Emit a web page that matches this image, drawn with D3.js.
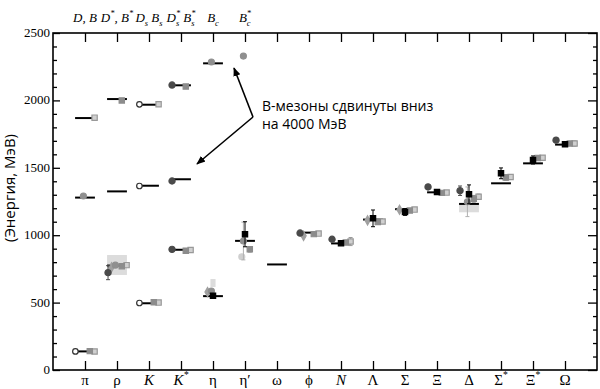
<!DOCTYPE html>
<html lang="ru">
<head>
<meta charset="utf-8">
<title>Hadron spectrum</title>
<script src="https://cdnjs.cloudflare.com/ajax/libs/d3/7.8.5/d3.min.js"></script>
<style>
  body { margin: 0; background: #fff; }
  svg text { fill: #000; }
  .tick-lbl { font-family: "Liberation Serif", "DejaVu Serif", serif; font-size: 13px; }
  .cat-lbl { font-family: "Liberation Serif", "DejaVu Serif", serif; font-size: 15px; }
  .note { font-family: "Open Sans", "DejaVu Sans", sans-serif; font-size: 14px; }
</style>
</head>
<body>
<div id="chart"></div>
<script>
// categories (bottom) and heavy-meson labels (top)
var categories = ["π", "ρ", "K", "K^*", "η", "η′", "ω", "ϕ", "N", "Λ", "Σ", "Ξ", "Δ", "Σ^*", "Ξ^*", "Ω"];
var italicCats = ["K", "K^*", "N"];
var topLabels = ["D, B", "D^*, B^*", "D_s B_s", "D_s^* B_s^*", "B_c", "B_c^*"];
var yTicks = [0, 500, 1000, 1500, 2000, 2500];

// experiment (black bars)
var expLight = [138, 775, 495, 892, 548, 958, 783, 1019, 939, 1116, 1193, 1318, 1232, 1385, 1533, 1672];
var expHeavyD = [1869, 2010, 1968, 2112, 2275];   // D, D*, Ds, Ds*, Bc
var expHeavyB = [1279, 1325, 1367, 1415];         // B, B*, Bs, Bs*  (minus 4000)

// light grey bands [category, low, high]
var bands = [[1, 705, 853], [4, 616, 675], [12, 1170, 1236]];

// lattice results: [category, value, error]
var darkCircles  = [[1, 722, 52], [3, 895, 12], [7, 1016, 8], [8, 970, 15], [11, 1358, 15], [12, 1330, 35], [15, 1705, 10], [3, 2114, 0], [3, 1402, 0]];
var openCircles  = [[0, 138, 0], [2, 497, 0], [2, 1971, 0], [2, 1365, 0]];
var blackSquares = [[4, 551, 0], [5, 1007, 93], [8, 940, 0], [9, 1125, 62], [10, 1172, 25], [11, 1320, 12], [12, 1303, 70], [13, 1459, 40], [14, 1558, 30], [15, 1674, 8]];
var grayCircles  = [[1, 778, 0], [5, 957, 140], [12, 1248, 110], [0, 1291, 0], [4, 2285, 0], [5, 2329, 0], [4, 586, 0]];
var graySquares  = [[0, 140, 0], [1, 770, 0], [2, 503, 0], [3, 885, 0], [5, 895, 20], [7, 1008, 0], [8, 946, 0], [9, 1098, 0], [10, 1183, 0], [11, 1314, 0], [12, 1270, 25], [13, 1428, 20], [14, 1572, 15], [15, 1680, 0], [1, 2000, 0], [3, 2103, 0]];
var lightSquares = [[0, 137, 0], [1, 778, 0], [2, 500, 0], [3, 890, 0], [7, 1012, 0], [8, 953, 30], [9, 1102, 0], [10, 1190, 0], [11, 1316, 0], [12, 1285, 20], [13, 1432, 0], [14, 1575, 0], [15, 1680, 20], [0, 1872, 0], [2, 1971, 0]];
var grayDiamonds = [[1, 762, 0], [4, 578, 0], [7, 995, 0], [9, 1110, 0], [10, 1188, 0]];
var lightCircles = [[5, 840, 0]];

var width = 600, height = 389;
var mLeft = 53, mRight = 597, mTop = 33, mBottom = 370;

var svg = d3.select("#chart").append("svg")
    .attr("width", width).attr("height", height);

var x = d3.scaleLinear().domain([0, 17]).range([mLeft, mRight]);
var y = d3.scaleLinear().domain([0, 2500]).range([mBottom, mTop]);
var catX = function(i) { return x(i + 1); };

// text with ^ superscript and _ subscript (a ^ right after _ is stacked over it)
function richText(sel, str, size) {
    var parts = str.match(/(\^.|_.|[^\^_]+)/g);
    var shift = 0, prev = null, prevSub = false;
    parts.forEach(function(p) {
        var target = 0, txt = p, fs = size, dx = 0;
        if (p[0] === "^") {
            target = -size * 0.45; txt = p[1]; fs = size * 0.65;
            if (prevSub) dx = -prev.node().getComputedTextLength();
        } else if (p[0] === "_") { target = size * 0.3; txt = p[1]; fs = size * 0.65; }
        prev = sel.append("tspan").attr("dy", target - shift).attr("dx", dx)
            .attr("font-size", fs).text(txt);
        prevSub = p[0] === "_";
        shift = target;
    });
}

// axes
var minor = d3.range(0, 2501, 100).filter(function(v) { return v % 500 !== 0; });
function noDomain(g) { g.select(".domain").remove(); }
svg.append("g").attr("transform", "translate(" + mLeft + ",0)")
    .call(d3.axisRight(y).tickValues(yTicks).tickSize(7).tickFormat("")).call(noDomain);
svg.append("g").attr("transform", "translate(" + mLeft + ",0)")
    .call(d3.axisRight(y).tickValues(minor).tickSize(4).tickFormat("")).call(noDomain);
svg.append("g").attr("transform", "translate(" + mRight + ",0)")
    .call(d3.axisLeft(y).tickValues(yTicks).tickSize(9).tickFormat("")).call(noDomain);
svg.append("g").attr("transform", "translate(" + mRight + ",0)")
    .call(d3.axisLeft(y).tickValues(minor).tickSize(4).tickFormat("")).call(noDomain);

var catPos = d3.range(1, 17);
svg.append("g").attr("transform", "translate(0," + mBottom + ")")
    .call(d3.axisTop(x).tickValues(catPos).tickSize(9).tickFormat("")).call(noDomain);
svg.append("g").attr("transform", "translate(0," + mTop + ")")
    .call(d3.axisBottom(x).tickValues(catPos).tickSize(9).tickFormat("")).call(noDomain);
svg.selectAll(".tick line").attr("stroke", "#000").attr("stroke-width", 1.3);

svg.append("rect").attr("x", mLeft).attr("y", mTop)
    .attr("width", mRight - mLeft).attr("height", mBottom - mTop)
    .attr("fill", "none").attr("stroke", "#000").attr("stroke-width", 1.6);

// y tick labels
svg.selectAll(".ylbl").data(yTicks).enter().append("text")
    .attr("class", "tick-lbl")
    .attr("x", mLeft - 3).attr("y", function(d) { return y(d) + 4; })
    .attr("text-anchor", "end").text(function(d) { return d; });

// bottom labels
categories.forEach(function(c, i) {
    var t = svg.append("text").attr("class", "cat-lbl")
        .attr("x", catX(i)).attr("y", 385).attr("text-anchor", "middle")
        .style("font-style", italicCats.indexOf(c) >= 0 ? "italic" : "normal");
    richText(t, c, 15);
});

// top labels
topLabels.forEach(function(c, i) {
    var t = svg.append("text").attr("class", "cat-lbl")
        .attr("x", catX(i)).attr("y", 22).attr("text-anchor", "middle")
        .style("font-style", "italic").style("font-size", "13px");
    richText(t, c, 13);
});

// y label
svg.append("text").attr("class", "note")
    .attr("transform", "translate(15,188) rotate(-90)")
    .attr("text-anchor", "middle").style("font-size", "15px")
    .text("(Энергия, МэВ)");

// bands
svg.selectAll(".band").data(bands).enter().append("rect")
    .attr("x", function(d) { return catX(d[0]) - (d[0] === 4 ? 0.08 : 0.31) * 32; })
    .attr("width", function(d) { return (d[0] === 4 ? 0.16 : 0.62) * 32; })
    .attr("y", function(d) { return y(d[2]); })
    .attr("height", function(d) { return y(d[1]) - y(d[2]); })
    .attr("fill", "#dcdcdc");

// experiment bars
var halfBar = 0.31;
function expBars(vals) {
    svg.append("g").selectAll("line").data(vals).enter().append("line")
        .attr("x1", function(d, i) { return x(i + 1 - halfBar); })
        .attr("x2", function(d, i) { return x(i + 1 + halfBar); })
        .attr("y1", function(d) { return y(d); })
        .attr("y2", function(d) { return y(d); })
        .attr("stroke", "#000").attr("stroke-width", 2);
}
expBars(expLight);
expBars(expHeavyD);
expBars(expHeavyB);

// lattice markers
function series(data, opt) {
    var g = svg.append("g");
    var px = function(d) { return x(d[0] + 1 + opt.dx); };
    g.selectAll("path.err").data(data.filter(function(d) { return d[2] > 0; })).enter().append("path")
        .attr("d", function(d) {
            var cx = px(d), y1 = y(d[1] + d[2]), y2 = y(d[1] - d[2]);
            return "M" + cx + "," + y1 + "V" + y2 +
                "M" + (cx - 2) + "," + y1 + "H" + (cx + 2) +
                "M" + (cx - 2) + "," + y2 + "H" + (cx + 2);
        })
        .attr("stroke", opt.errColor || opt.stroke).attr("stroke-width", 1).attr("fill", "none");
    g.selectAll("path.sym").data(data).enter().append("path")
        .attr("d", d3.symbol().type(opt.type).size(opt.size))
        .attr("transform", function(d) { return "translate(" + px(d) + "," + y(d[1]) + ")"; })
        .attr("fill", opt.fill).attr("stroke", opt.stroke).attr("stroke-width", 1.2);
}

series(lightSquares, { dx: 0.3, type: d3.symbolSquare, size: 28, fill: "#d0d0d0", stroke: "#999" });
series(graySquares, { dx: 0.15, type: d3.symbolSquare, size: 28, fill: "#8c8c8c", stroke: "#8c8c8c" });
series(grayDiamonds, { dx: -0.17, type: d3.symbolDiamond, size: 24, fill: "#a0a0a0", stroke: "#a0a0a0" });
series(lightCircles, { dx: -0.1, type: d3.symbolCircle, size: 28, fill: "#cfcfcf", stroke: "#cfcfcf" });
series(grayCircles, { dx: -0.05, type: d3.symbolCircle, size: 28, fill: "#8f8f8f", stroke: "#8f8f8f", errColor: "#b0b0b0" });
series(openCircles, { dx: -0.3, type: d3.symbolCircle, size: 24, fill: "#fff", stroke: "#333" });
series(darkCircles, { dx: -0.28, type: d3.symbolCircle, size: 30, fill: "#4a4a4a", stroke: "#4a4a4a" });
series(blackSquares, { dx: 0, type: d3.symbolSquare, size: 28, fill: "#000", stroke: "#000" });

// annotation
svg.append("defs").append("marker").attr("id", "arr")
    .attr("viewBox", "0 0 10 10").attr("refX", 9).attr("refY", 5)
    .attr("markerWidth", 9).attr("markerHeight", 9).attr("orient", "auto")
    .attr("markerUnits", "userSpaceOnUse")
    .append("path").attr("d", "M0,1L10,5L0,9z").attr("fill", "#000");
[[234, 68], [197, 164]].forEach(function(p) {
    svg.append("line").attr("x1", 253).attr("y1", 117).attr("x2", p[0]).attr("y2", p[1])
        .attr("stroke", "#000").attr("stroke-width", 1.6).attr("marker-end", "url(#arr)");
});
svg.append("text").attr("class", "note").attr("x", 262).attr("y", 111).text("В-мезоны сдвинуты вниз");
svg.append("text").attr("class", "note").attr("x", 262).attr("y", 129).text("на 4000 МэВ");
</script>
</body>
</html>
